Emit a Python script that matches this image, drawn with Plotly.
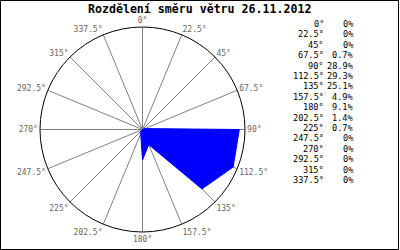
import plotly.graph_objects as go

directions = [0, 22.5, 45, 67.5, 90, 112.5, 135, 157.5, 180, 202.5, 225, 247.5, 270, 292.5, 315, 337.5]
percent = [0, 0, 0, 0.7, 28.9, 29.3, 25.1, 4.9, 9.1, 1.4, 0.7, 0, 0, 0, 0, 0]
tick_labels = [f"{d:g}°" for d in directions]
title_text = "Rozdělení směru větru 26.11.2012"

W, H = 400, 250
MONO = "DejaVu Sans Mono"

fig = go.Figure()
fig.add_trace(go.Scatterpolar(
    r=percent + [percent[0]],
    theta=directions + [directions[0]],
    mode="lines",
    fill="toself",
    fillcolor="#0000ff",
    line=dict(color="#0000ff", width=1),
    hoverinfo="skip",
))

annotations = [dict(
    text=f"<b>{title_text}</b>", x=199.5 / W, y=1 - 8.5 / H, xref="paper", yref="paper",
    showarrow=False, xanchor="center", yanchor="middle",
    font=dict(family=MONO, size=11.6, color="black"),
)]
for i, (d, p) in enumerate(zip(directions, percent)):
    yy = 1 - (24 + i * 10.4) / H
    annotations.append(dict(
        text=f"{d:g}°", x=326 / W, y=yy, xref="paper", yref="paper", showarrow=False,
        xanchor="right", yanchor="middle", font=dict(family=MONO, size=8.6, color="black")))
    annotations.append(dict(
        text=f"{p:g}%", x=356 / W, y=yy, xref="paper", yref="paper", showarrow=False,
        xanchor="right", yanchor="middle", font=dict(family=MONO, size=8.6, color="black")))

fig.update_layout(
    width=W, height=H,
    margin=dict(l=0, r=0, t=0, b=0),
    paper_bgcolor="white",
    showlegend=False,
    polar=dict(
        domain=dict(x=[40 / W, 245 / W], y=[1 - 233 / H, 1 - 26 / H]),
        bgcolor="white",
        radialaxis=dict(visible=False, range=[0, 30.6]),
        angularaxis=dict(
            direction="clockwise", rotation=90,
            tickmode="array", tickvals=directions, ticktext=tick_labels,
            showgrid=True, gridcolor="#808080", gridwidth=1,
            showline=True, linecolor="black", linewidth=1,
            ticks="",
            tickfont=dict(family=MONO, size=8, color="#666666"),
        ),
    ),
    annotations=annotations,
    shapes=[dict(type="rect", xref="paper", yref="paper", x0=0.5 / W, y0=0.5 / H,
                 x1=1 - 1.5 / W, y1=1 - 0.5 / H, line=dict(color="black", width=1))],
)

fig.write_html("out.html")
